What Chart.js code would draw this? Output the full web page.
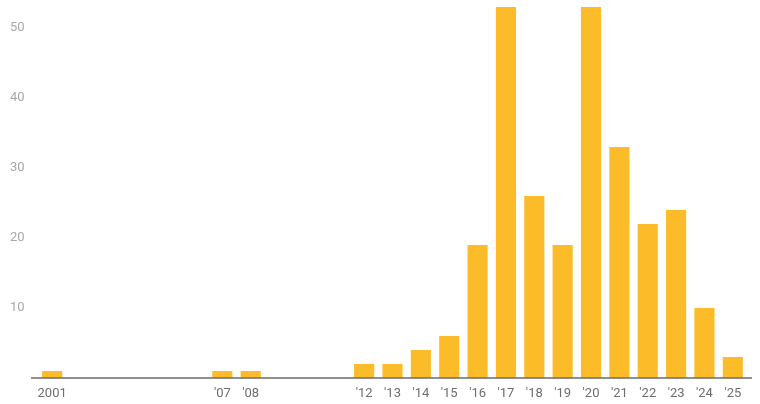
<!DOCTYPE html>
<html>
<head>
<meta charset="utf-8">
<script src="https://cdn.jsdelivr.net/npm/chart.js@4/dist/chart.umd.min.js"></script>
<style>
html,body{margin:0;padding:0;background:#fff;}
canvas{display:block;}
</style>
</head>
<body>
<canvas id="c" width="760" height="404"></canvas>
<script>
const years = ['2001','2002','2003','2004','2005','2006','2007','2008','2009','2010','2011','2012','2013','2014','2015','2016','2017','2018','2019','2020','2021','2022','2023','2024','2025'];
const tickLabels = ['2001','','','','','',"'07","'08",'','','',"'12","'13","'14","'15","'16","'17","'18","'19","'20","'21","'22","'23","'24","'25"];
const counts = [1,0,0,0,0,0,1,1,0,0,0,2,2,4,6,19,53,26,19,53,33,22,24,10,3];
const yTicks = [10,20,30,40,50];

const baseline = {
  id:'baseline',
  afterDatasetsDraw(chart){
    const ctx = chart.ctx;
    const y = chart.scales.y.getPixelForValue(0);
    ctx.save();
    ctx.strokeStyle = '#6b6b6b';
    ctx.lineWidth = 1.5;
    ctx.beginPath();
    ctx.moveTo(31, y);
    ctx.lineTo(752, y);
    ctx.stroke();
    ctx.restore();
  }
};

new Chart(document.getElementById('c'), {
  type:'bar',
  data:{
    labels: years,
    datasets:[{
      data: counts,
      backgroundColor:'#fcbc2a',
      barPercentage:0.71,
      categoryPercentage:1.0
    }]
  },
  options:{
    responsive:false,
    animation:false,
    layout:{padding:{left:10,right:13,top:0,bottom:0}},
    plugins:{legend:{display:false},tooltip:{enabled:false}},
    scales:{
      x:{
        grid:{display:false,drawTicks:false},
        border:{display:false},
        ticks:{
          autoSkip:false,maxRotation:0,minRotation:0,padding:8,
          color:'#6e6e6e',
          font:{family:'Roboto',size:13},
          callback:(v,i)=>tickLabels[i]
        },
        afterFit(s){s.height=26;s.paddingLeft=0;s.paddingRight=0;}
      },
      y:{
        min:0,max:54,
        grid:{display:false,drawTicks:false},
        border:{display:false},
        afterBuildTicks(s){s.ticks = yTicks.map(v=>({value:v}));},
        ticks:{
          crossAlign:'far',padding:0,
          color:'#a8a8a8',
          font:{family:'Roboto',size:13},
          callback:v=>String(v)
        },
        afterFit(s){s.width=28;s.paddingTop=0;s.paddingBottom=0;}
      }
    }
  },
  plugins:[baseline]
});
</script>
</body>
</html>
